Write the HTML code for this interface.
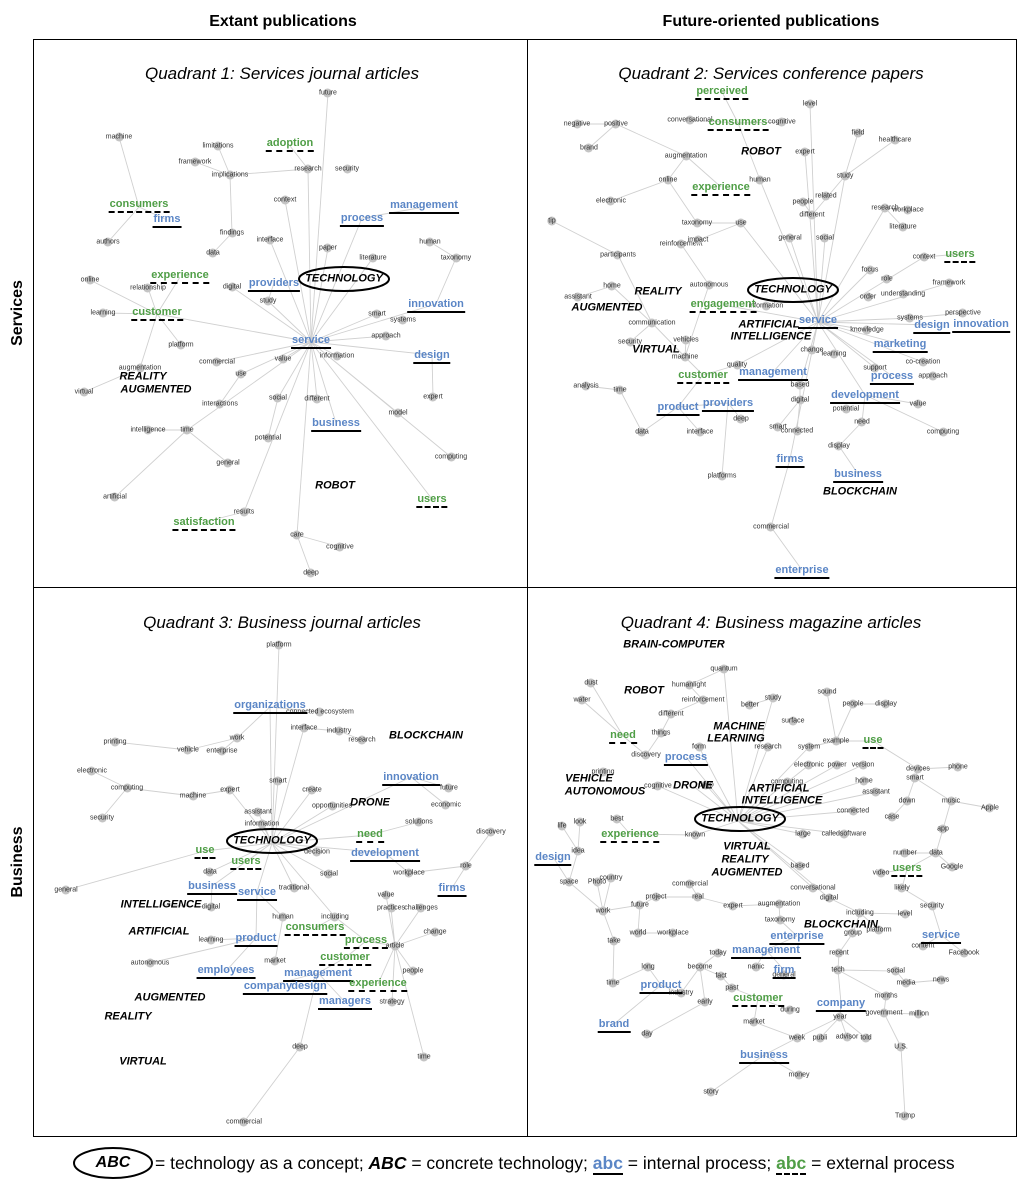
<!DOCTYPE html>
<html><head><meta charset="utf-8"><style>
*{margin:0;padding:0}
body{width:1028px;height:1195px;background:#fff;position:relative;overflow:hidden;font-family:"Liberation Sans",sans-serif}
.n{position:absolute;transform:translate(-50%,-50%);white-space:nowrap;line-height:1}
.s{font-size:7px;color:#333}
.s::after{content:'';position:absolute;left:50%;top:55%;width:9px;height:9px;margin:-4.5px;border-radius:50%;background:#c4c4c4;z-index:-1}
.b{font-size:11px;color:#5b86c6;font-weight:bold;border-bottom:2px solid #000;padding:0 1px 1px}
.g{font-size:11px;color:#4f9e46;font-weight:bold;border-bottom:2px dashed #000;padding:0 1px 1px}
.k{font-size:11px;font-weight:bold;font-style:italic;color:#000}
.t{position:absolute;font-size:17px;font-style:italic;transform:translateX(-50%);white-space:nowrap}
.h{position:absolute;font-size:16px;font-weight:bold;transform:translateX(-50%);white-space:nowrap}
svg{position:absolute;left:0;top:0}
</style></head><body>
<svg width="1028" height="1195">
<rect x="33.5" y="39.5" width="983" height="1097" fill="none" stroke="#000"/>
<line x1="527.5" y1="39" x2="527.5" y2="1136" stroke="#000"/>
<line x1="33" y1="587.5" x2="1016" y2="587.5" stroke="#000"/>
<g stroke="#d0d0d0" stroke-width="0.9" fill="none">
<path d="M311 342L328 93M311 342L308 169M308 169L290 146M308 169L230 175M230 175L218 146M230 175L195 162M230 175L232 233M232 233L213 253M311 342L285 200M311 342L362 218M362 218L424 207M311 342L373 258M311 342L436 304M436 304L456 258M456 258L430 242M311 342L432 355M432 355L433 397M311 342L398 413M311 342L336 423M311 342L451 457M311 342L432 499M311 342L317 399M311 342L297 535M297 535L340 547M297 535L311 573M311 342L244 512M244 512L204 522M311 342L278 398M278 398L268 438M311 342L157 314M157 314L180 277M157 314L148 288M157 314L103 313M157 314L90 280M157 314L140 368M140 368L84 392M157 314L181 345M311 342L241 374M241 374L220 404M311 342L187 430M187 430L148 430M187 430L228 463M187 430L115 497M311 342L268 301M268 301L274 283M311 342L232 287M311 342L386 336M311 342L377 314M311 342L283 359M311 342L337 356M311 342L328 248M139 207L108 242M139 207L119 137M139 207L167 220M311 342L270 240M311 342L217 362"/>
<path d="M818 322L810 104M818 322L845 176M845 176L858 133M845 176L895 140M845 176L812 215M812 215L803 202M818 322L885 208M885 208L908 210M885 208L903 227M818 322L741 223M741 223L698 240M741 223L697 223M697 223L668 180M668 180L686 156M686 156L616 124M616 124L577 124M616 124L589 148M686 156L721 187M668 180L611 201M818 322L790 238M818 322L825 238M818 322L870 270M818 322L924 257M924 257L960 254M818 322L949 283M818 322L910 318M910 318L963 313M818 322L932 325M818 322L900 344M818 322L867 330M818 322L923 362M818 322L875 368M818 322L892 376M818 322L812 350M818 322L800 385M800 385L800 400M800 400L778 427M800 400L797 431M818 322L865 395M865 395L918 404M865 395L943 432M865 395L862 422M862 422L839 446M839 446L858 474M818 322L790 459M790 459L771 527M771 527L802 570M818 322L773 372M818 322L737 365M737 365L703 375M703 375L678 407M678 407L642 432M642 432L620 390M620 390L586 386M678 407L700 432M678 407L728 403M728 403L741 419M728 403L722 476M703 375L685 357M685 357L652 323M652 323L630 342M652 323L618 255M652 323L612 286M612 286L578 297M618 255L552 221M685 357L686 340M685 357L709 285M709 285L681 244M818 322L723 305M818 322L760 180M760 180L738 123M738 123L722 92M738 123L690 120M738 123L782 122M818 322L805 152"/>
<path d="M272 843L279 645M272 843L270 707M270 707L320 712M270 707L237 738M237 738L222 751M237 738L188 750M188 750L115 742M272 843L304 728M304 728L339 731M339 731L362 740M272 843L411 777M411 777L449 788M411 777L446 805M272 843L278 781M272 843L312 790M272 843L230 790M230 790L193 796M193 796L127 788M127 788L92 771M127 788L102 818M272 843L258 812M272 843L332 806M272 843L262 824M272 843L370 835M370 835L419 822M272 843L205 851M205 851L66 890M272 843L210 872M272 843L317 852M272 843L385 853M385 853L409 873M409 873L466 866M466 866L491 832M466 866L452 888M272 843L246 862M272 843L329 874M272 843L294 888M272 843L212 886M212 886L211 907M272 843L257 892M257 892L283 917M283 917L275 961M272 843L335 917M335 917L315 928M335 917L366 941M366 941L395 946M395 946L421 908M395 946L391 908M395 946L386 895M395 946L435 932M395 946L413 971M395 946L424 1057M395 946L392 1002M395 946L378 984M366 941L345 958M345 958L318 973M318 973L345 1002M318 973L309 987M318 973L268 986M318 973L300 1047M300 1047L244 1122M257 892L256 938M256 938L211 940M256 938L226 971M256 938L150 963M211 907L161 905"/>
<path d="M738 821L724 669M724 669L689 685M689 685L703 700M703 700L671 714M671 714L661 733M661 733L646 755M646 755L623 736M623 736L591 683M623 736L582 700M738 821L773 698M773 698L750 705M738 821L768 747M738 821L809 747M809 747L836 741M836 741L827 692M836 741L853 704M853 704L886 704M836 741L873 741M873 741L918 769M918 769L958 767M918 769L915 778M915 778L907 801M907 801L892 817M915 778L951 801M951 801L990 808M951 801L943 829M943 829L936 853M936 853L905 853M936 853L952 867M936 853L907 869M907 869L881 873M907 869L902 888M902 888L932 906M932 906L941 935M941 935L923 946M941 935L964 953M738 821L809 765M738 821L837 765M738 821L863 765M738 821L864 781M738 821L876 792M738 821L853 811M738 821L803 834M738 821L844 834M738 821L800 866M738 821L813 888M738 821L829 898M829 898L860 913M860 913L905 914M860 913L879 930M860 913L853 933M853 933L839 953M839 953L838 970M838 970L896 971M896 971L906 983M906 983L941 980M838 970L886 996M886 996L884 1013M884 1013L919 1014M884 1013L901 1047M901 1047L905 1116M838 970L841 1003M841 1003L840 1017M840 1017L866 1038M840 1017L847 1037M840 1017L820 1038M840 1017L797 1038M797 1038L764 1055M764 1055L799 1075M764 1055L711 1092M797 1038L754 1022M754 1022L758 998M758 998L790 1010M758 998L732 988M732 988L721 976M721 976L700 967M700 967L718 953M700 967L705 1002M705 1002L647 1034M700 967L681 993M681 993L661 985M661 985L614 1024M661 985L648 967M648 967L613 983M613 983L614 941M614 941L603 911M603 911L569 882M569 882L553 857M569 882L578 851M578 851L562 826M578 851L580 822M603 911L597 882M603 911L611 878M603 911L640 905M640 905L656 897M656 897L698 897M698 897L690 884M698 897L733 906M733 906L779 904M779 904L780 920M780 920L797 936M797 936L766 950M766 950L756 967M766 950L784 970M784 970L784 975M738 821L695 835M695 835L630 834M630 834L617 819M738 821L658 786M738 821L693 786M738 821L706 785M738 821L787 782M738 821L699 747M738 821L686 757M640 905L638 933M638 933L673 933"/>
</g>
<ellipse cx="344" cy="279" rx="45" ry="12" fill="none" stroke="#000" stroke-width="2"/>
<ellipse cx="793" cy="290" rx="45" ry="12" fill="none" stroke="#000" stroke-width="2"/>
<ellipse cx="272" cy="841" rx="45" ry="12" fill="none" stroke="#000" stroke-width="2"/>
<ellipse cx="740" cy="819" rx="45" ry="12" fill="none" stroke="#000" stroke-width="2"/>
<ellipse cx="113" cy="1163" rx="39" ry="15" fill="none" stroke="#000" stroke-width="2"/>
</svg>

<div class="h" style="left:283px;top:13px">Extant publications</div>
<div class="h" style="left:771px;top:13px">Future-oriented publications</div>
<div class="h" style="left:18px;top:313px;transform:translate(-50%,-50%) rotate(-90deg)">Services</div>
<div class="h" style="left:18px;top:862px;transform:translate(-50%,-50%) rotate(-90deg)">Business</div>
<div class="t" style="left:282px;top:64px">Quadrant 1: Services journal articles</div>
<div class="t" style="left:771px;top:64px">Quadrant 2: Services conference papers</div>
<div class="t" style="left:282px;top:613px">Quadrant 3: Business journal articles</div>
<div class="t" style="left:771px;top:613px">Quadrant 4: Business magazine articles</div>

<div class="n k" style="left:344px;top:279px">TECHNOLOGY</div>
<div class="n k" style="left:793px;top:290px">TECHNOLOGY</div>
<div class="n k" style="left:272px;top:841px">TECHNOLOGY</div>
<div class="n k" style="left:740px;top:819px">TECHNOLOGY</div>

<!-- Q1 -->
<div class="n s" style="left:328px;top:93px">future</div><div class="n s" style="left:119px;top:137px">machine</div><div class="n s" style="left:218px;top:146px">limitations</div><div class="n s" style="left:195px;top:162px">framework</div><div class="n s" style="left:230px;top:175px">implications</div><div class="n s" style="left:308px;top:169px">research</div><div class="n s" style="left:347px;top:169px">security</div><div class="n s" style="left:285px;top:200px">context</div><div class="n s" style="left:108px;top:242px">authors</div><div class="n s" style="left:270px;top:240px">interface</div><div class="n s" style="left:328px;top:248px">paper</div><div class="n s" style="left:373px;top:258px">literature</div><div class="n s" style="left:430px;top:242px">human</div><div class="n s" style="left:456px;top:258px">taxonomy</div><div class="n s" style="left:213px;top:253px">data</div><div class="n s" style="left:232px;top:233px">findings</div><div class="n s" style="left:148px;top:288px">relationship</div><div class="n s" style="left:90px;top:280px">online</div><div class="n s" style="left:232px;top:287px">digital</div><div class="n s" style="left:268px;top:301px">study</div><div class="n s" style="left:103px;top:313px">learning</div><div class="n s" style="left:377px;top:314px">smart</div><div class="n s" style="left:403px;top:320px">systems</div><div class="n s" style="left:386px;top:336px">approach</div><div class="n s" style="left:181px;top:345px">platform</div><div class="n s" style="left:217px;top:362px">commercial</div><div class="n s" style="left:241px;top:374px">use</div><div class="n s" style="left:283px;top:359px">value</div><div class="n s" style="left:337px;top:356px">information</div><div class="n s" style="left:140px;top:368px">augmentation</div><div class="n s" style="left:84px;top:392px">virtual</div><div class="n s" style="left:220px;top:404px">interactions</div><div class="n s" style="left:278px;top:398px">social</div><div class="n s" style="left:317px;top:399px">different</div><div class="n s" style="left:433px;top:397px">expert</div><div class="n s" style="left:398px;top:413px">model</div><div class="n s" style="left:148px;top:430px">intelligence</div><div class="n s" style="left:187px;top:430px">time</div><div class="n s" style="left:268px;top:438px">potential</div><div class="n s" style="left:228px;top:463px">general</div><div class="n s" style="left:451px;top:457px">computing</div><div class="n s" style="left:115px;top:497px">artificial</div><div class="n s" style="left:244px;top:512px">results</div><div class="n s" style="left:297px;top:535px">care</div><div class="n s" style="left:340px;top:547px">cognitive</div><div class="n s" style="left:311px;top:573px">deep</div>
<div class="n g" style="left:290px;top:145px">adoption</div><div class="n g" style="left:139px;top:206px">consumers</div><div class="n b" style="left:167px;top:221px">firms</div><div class="n b" style="left:424px;top:207px">management</div><div class="n b" style="left:362px;top:220px">process</div><div class="n g" style="left:180px;top:277px">experience</div><div class="n b" style="left:274px;top:285px">providers</div><div class="n b" style="left:436px;top:306px">innovation</div><div class="n g" style="left:157px;top:314px">customer</div><div class="n b" style="left:311px;top:342px">service</div><div class="n b" style="left:432px;top:357px">design</div><div class="n b" style="left:336px;top:425px">business</div><div class="n g" style="left:432px;top:501px">users</div><div class="n g" style="left:204px;top:524px">satisfaction</div>
<div class="n k" style="left:143px;top:377px">REALITY</div><div class="n k" style="left:156px;top:390px">AUGMENTED</div><div class="n k" style="left:335px;top:486px">ROBOT</div>

<!-- Q2 -->
<div class="n s" style="left:810px;top:104px">level</div><div class="n s" style="left:577px;top:124px">negative</div><div class="n s" style="left:616px;top:124px">positive</div><div class="n s" style="left:690px;top:120px">conversational</div><div class="n s" style="left:782px;top:122px">cognitive</div><div class="n s" style="left:589px;top:148px">brand</div><div class="n s" style="left:858px;top:133px">field</div><div class="n s" style="left:895px;top:140px">healthcare</div><div class="n s" style="left:686px;top:156px">augmentation</div><div class="n s" style="left:805px;top:152px">expert</div><div class="n s" style="left:668px;top:180px">online</div><div class="n s" style="left:760px;top:180px">human</div><div class="n s" style="left:845px;top:176px">study</div><div class="n s" style="left:908px;top:210px">workplace</div><div class="n s" style="left:611px;top:201px">electronic</div><div class="n s" style="left:803px;top:202px">people</div><div class="n s" style="left:826px;top:196px">related</div><div class="n s" style="left:812px;top:215px">different</div><div class="n s" style="left:885px;top:208px">research</div><div class="n s" style="left:903px;top:227px">literature</div><div class="n s" style="left:552px;top:221px">tip</div><div class="n s" style="left:697px;top:223px">taxonomy</div><div class="n s" style="left:741px;top:223px">use</div><div class="n s" style="left:681px;top:244px">reinforcement</div><div class="n s" style="left:698px;top:240px">impact</div><div class="n s" style="left:790px;top:238px">general</div><div class="n s" style="left:825px;top:238px">social</div><div class="n s" style="left:618px;top:255px">participants</div><div class="n s" style="left:924px;top:257px">context</div><div class="n s" style="left:612px;top:286px">home</div><div class="n s" style="left:709px;top:285px">autonomous</div><div class="n s" style="left:870px;top:270px">focus</div><div class="n s" style="left:887px;top:279px">role</div><div class="n s" style="left:949px;top:283px">framework</div><div class="n s" style="left:578px;top:297px">assistant</div><div class="n s" style="left:903px;top:294px">understanding</div><div class="n s" style="left:868px;top:297px">order</div><div class="n s" style="left:766px;top:306px">information</div><div class="n s" style="left:652px;top:323px">communication</div><div class="n s" style="left:910px;top:318px">systems</div><div class="n s" style="left:963px;top:313px">perspective</div><div class="n s" style="left:630px;top:342px">security</div><div class="n s" style="left:686px;top:340px">vehicles</div><div class="n s" style="left:867px;top:330px">knowledge</div><div class="n s" style="left:685px;top:357px">machine</div><div class="n s" style="left:812px;top:350px">change</div><div class="n s" style="left:834px;top:354px">learning</div><div class="n s" style="left:923px;top:362px">co-creation</div><div class="n s" style="left:737px;top:365px">quality</div><div class="n s" style="left:800px;top:385px">based</div><div class="n s" style="left:875px;top:368px">support</div><div class="n s" style="left:933px;top:376px">approach</div><div class="n s" style="left:586px;top:386px">analysis</div><div class="n s" style="left:620px;top:390px">time</div><div class="n s" style="left:800px;top:400px">digital</div><div class="n s" style="left:846px;top:409px">potential</div><div class="n s" style="left:918px;top:404px">value</div><div class="n s" style="left:741px;top:419px">deep</div><div class="n s" style="left:778px;top:427px">smart</div><div class="n s" style="left:797px;top:431px">connected</div><div class="n s" style="left:862px;top:422px">need</div><div class="n s" style="left:642px;top:432px">data</div><div class="n s" style="left:700px;top:432px">interface</div><div class="n s" style="left:943px;top:432px">computing</div><div class="n s" style="left:839px;top:446px">display</div><div class="n s" style="left:722px;top:476px">platforms</div><div class="n s" style="left:771px;top:527px">commercial</div>
<div class="n g" style="left:722px;top:93px">perceived</div><div class="n g" style="left:738px;top:124px">consumers</div><div class="n g" style="left:721px;top:189px">experience</div><div class="n g" style="left:960px;top:256px">users</div><div class="n g" style="left:723px;top:306px">engagement</div><div class="n b" style="left:818px;top:322px">service</div><div class="n b" style="left:932px;top:327px">design</div><div class="n b" style="left:981px;top:326px">innovation</div><div class="n b" style="left:900px;top:346px">marketing</div><div class="n b" style="left:773px;top:374px">management</div><div class="n g" style="left:703px;top:377px">customer</div><div class="n b" style="left:892px;top:378px">process</div><div class="n b" style="left:865px;top:397px">development</div><div class="n b" style="left:678px;top:409px">product</div><div class="n b" style="left:728px;top:405px">providers</div><div class="n b" style="left:790px;top:461px">firms</div><div class="n b" style="left:858px;top:476px">business</div><div class="n b" style="left:802px;top:572px">enterprise</div>
<div class="n k" style="left:761px;top:152px">ROBOT</div><div class="n k" style="left:658px;top:292px">REALITY</div><div class="n k" style="left:607px;top:308px">AUGMENTED</div><div class="n k" style="left:769px;top:325px">ARTIFICIAL</div><div class="n k" style="left:771px;top:337px">INTELLIGENCE</div><div class="n k" style="left:656px;top:350px">VIRTUAL</div><div class="n k" style="left:860px;top:492px">BLOCKCHAIN</div>

<!-- Q3 -->
<div class="n s" style="left:279px;top:645px">platform</div><div class="n s" style="left:320px;top:712px">connected ecosystem</div><div class="n s" style="left:115px;top:742px">printing</div><div class="n s" style="left:188px;top:750px">vehicle</div><div class="n s" style="left:222px;top:751px">enterprise</div><div class="n s" style="left:237px;top:738px">work</div><div class="n s" style="left:304px;top:728px">interface</div><div class="n s" style="left:339px;top:731px">industry</div><div class="n s" style="left:362px;top:740px">research</div><div class="n s" style="left:92px;top:771px">electronic</div><div class="n s" style="left:127px;top:788px">computing</div><div class="n s" style="left:193px;top:796px">machine</div><div class="n s" style="left:230px;top:790px">expert</div><div class="n s" style="left:278px;top:781px">smart</div><div class="n s" style="left:312px;top:790px">create</div><div class="n s" style="left:449px;top:788px">future</div><div class="n s" style="left:446px;top:805px">economic</div><div class="n s" style="left:258px;top:812px">assistant</div><div class="n s" style="left:332px;top:806px">opportunities</div><div class="n s" style="left:102px;top:818px">security</div><div class="n s" style="left:262px;top:824px">information</div><div class="n s" style="left:419px;top:822px">solutions</div><div class="n s" style="left:491px;top:832px">discovery</div><div class="n s" style="left:210px;top:872px">data</div><div class="n s" style="left:317px;top:852px">decision</div><div class="n s" style="left:466px;top:866px">role</div><div class="n s" style="left:66px;top:890px">general</div><div class="n s" style="left:329px;top:874px">social</div><div class="n s" style="left:294px;top:888px">traditional</div><div class="n s" style="left:409px;top:873px">workplace</div><div class="n s" style="left:211px;top:907px">digital</div><div class="n s" style="left:386px;top:895px">value</div><div class="n s" style="left:421px;top:908px">challenges</div><div class="n s" style="left:283px;top:917px">human</div><div class="n s" style="left:335px;top:917px">including</div><div class="n s" style="left:391px;top:908px">practices</div><div class="n s" style="left:435px;top:932px">change</div><div class="n s" style="left:211px;top:940px">learning</div><div class="n s" style="left:150px;top:963px">autonomous</div><div class="n s" style="left:275px;top:961px">market</div><div class="n s" style="left:395px;top:946px">article</div><div class="n s" style="left:413px;top:971px">people</div><div class="n s" style="left:392px;top:1002px">strategy</div><div class="n s" style="left:300px;top:1047px">deep</div><div class="n s" style="left:424px;top:1057px">time</div><div class="n s" style="left:244px;top:1122px">commercial</div>
<div class="n b" style="left:270px;top:707px">organizations</div><div class="n b" style="left:411px;top:779px">innovation</div><div class="n g" style="left:370px;top:836px">need</div><div class="n g" style="left:205px;top:852px">use</div><div class="n b" style="left:385px;top:855px">development</div><div class="n g" style="left:246px;top:863px">users</div><div class="n b" style="left:212px;top:888px">business</div><div class="n b" style="left:257px;top:894px">service</div><div class="n b" style="left:452px;top:890px">firms</div><div class="n b" style="left:256px;top:940px">product</div><div class="n g" style="left:315px;top:929px">consumers</div><div class="n g" style="left:366px;top:942px">process</div><div class="n g" style="left:345px;top:959px">customer</div><div class="n b" style="left:226px;top:972px">employees</div><div class="n b" style="left:318px;top:975px">management</div><div class="n b" style="left:268px;top:988px">company</div><div class="n b" style="left:309px;top:988px">design</div><div class="n g" style="left:378px;top:985px">experience</div><div class="n b" style="left:345px;top:1003px">managers</div>
<div class="n k" style="left:426px;top:736px">BLOCKCHAIN</div><div class="n k" style="left:370px;top:803px">DRONE</div><div class="n k" style="left:161px;top:905px">INTELLIGENCE</div><div class="n k" style="left:159px;top:932px">ARTIFICIAL</div><div class="n k" style="left:170px;top:998px">AUGMENTED</div><div class="n k" style="left:128px;top:1017px">REALITY</div><div class="n k" style="left:143px;top:1062px">VIRTUAL</div>

<!-- Q4 -->
<div class="n s" style="left:724px;top:669px">quantum</div><div class="n s" style="left:591px;top:683px">dust</div><div class="n s" style="left:689px;top:685px">humanlight</div><div class="n s" style="left:582px;top:700px">water</div><div class="n s" style="left:703px;top:700px">reinforcement</div><div class="n s" style="left:750px;top:705px">better</div><div class="n s" style="left:773px;top:698px">study</div><div class="n s" style="left:827px;top:692px">sound</div><div class="n s" style="left:853px;top:704px">people</div><div class="n s" style="left:886px;top:704px">display</div><div class="n s" style="left:671px;top:714px">different</div><div class="n s" style="left:793px;top:721px">surface</div><div class="n s" style="left:661px;top:733px">things</div><div class="n s" style="left:836px;top:741px">example</div><div class="n s" style="left:699px;top:747px">form</div><div class="n s" style="left:768px;top:747px">research</div><div class="n s" style="left:809px;top:747px">system</div><div class="n s" style="left:646px;top:755px">discovery</div><div class="n s" style="left:809px;top:765px">electronic</div><div class="n s" style="left:837px;top:765px">power</div><div class="n s" style="left:863px;top:765px">version</div><div class="n s" style="left:918px;top:769px">devices</div><div class="n s" style="left:958px;top:767px">phone</div><div class="n s" style="left:603px;top:772px">printing</div><div class="n s" style="left:658px;top:786px">cognitive</div><div class="n s" style="left:706px;top:785px">deep</div><div class="n s" style="left:787px;top:782px">computing</div><div class="n s" style="left:864px;top:781px">home</div><div class="n s" style="left:915px;top:778px">smart</div><div class="n s" style="left:876px;top:792px">assistant</div><div class="n s" style="left:951px;top:801px">music</div><div class="n s" style="left:990px;top:808px">Apple</div><div class="n s" style="left:617px;top:819px">best</div><div class="n s" style="left:907px;top:801px">down</div><div class="n s" style="left:853px;top:811px">connected</div><div class="n s" style="left:892px;top:817px">case</div><div class="n s" style="left:562px;top:826px">life</div><div class="n s" style="left:580px;top:822px">look</div><div class="n s" style="left:695px;top:835px">known</div><div class="n s" style="left:803px;top:834px">large</div><div class="n s" style="left:844px;top:834px">calledsoftware</div><div class="n s" style="left:943px;top:829px">app</div><div class="n s" style="left:578px;top:851px">idea</div><div class="n s" style="left:800px;top:866px">based</div><div class="n s" style="left:905px;top:853px">number</div><div class="n s" style="left:936px;top:853px">data</div><div class="n s" style="left:952px;top:867px">Google</div><div class="n s" style="left:881px;top:873px">video</div><div class="n s" style="left:569px;top:882px">space</div><div class="n s" style="left:597px;top:882px">Photo</div><div class="n s" style="left:611px;top:878px">country</div><div class="n s" style="left:690px;top:884px">commercial</div><div class="n s" style="left:813px;top:888px">conversational</div><div class="n s" style="left:902px;top:888px">likely</div><div class="n s" style="left:829px;top:898px">digital</div><div class="n s" style="left:932px;top:906px">security</div><div class="n s" style="left:656px;top:897px">project</div><div class="n s" style="left:698px;top:897px">real</div><div class="n s" style="left:640px;top:905px">future</div><div class="n s" style="left:603px;top:911px">work</div><div class="n s" style="left:733px;top:906px">expert</div><div class="n s" style="left:779px;top:904px">augmentation</div><div class="n s" style="left:860px;top:913px">including</div><div class="n s" style="left:905px;top:914px">level</div><div class="n s" style="left:638px;top:933px">world</div><div class="n s" style="left:673px;top:933px">workplace</div><div class="n s" style="left:780px;top:920px">taxonomy</div><div class="n s" style="left:853px;top:933px">group</div><div class="n s" style="left:879px;top:930px">platform</div><div class="n s" style="left:923px;top:946px">content</div><div class="n s" style="left:614px;top:941px">take</div><div class="n s" style="left:964px;top:953px">Facebook</div><div class="n s" style="left:718px;top:953px">today</div><div class="n s" style="left:839px;top:953px">recent</div><div class="n s" style="left:648px;top:967px">long</div><div class="n s" style="left:700px;top:967px">become</div><div class="n s" style="left:756px;top:967px">nanic</div><div class="n s" style="left:838px;top:970px">tech</div><div class="n s" style="left:896px;top:971px">social</div><div class="n s" style="left:906px;top:983px">media</div><div class="n s" style="left:941px;top:980px">news</div><div class="n s" style="left:721px;top:976px">fact</div><div class="n s" style="left:613px;top:983px">time</div><div class="n s" style="left:681px;top:993px">industry</div><div class="n s" style="left:732px;top:988px">past</div><div class="n s" style="left:784px;top:975px">general</div><div class="n s" style="left:886px;top:996px">months</div><div class="n s" style="left:705px;top:1002px">early</div><div class="n s" style="left:790px;top:1010px">during</div><div class="n s" style="left:840px;top:1017px">year</div><div class="n s" style="left:919px;top:1014px">million</div><div class="n s" style="left:884px;top:1013px">government</div><div class="n s" style="left:647px;top:1034px">day</div><div class="n s" style="left:754px;top:1022px">market</div><div class="n s" style="left:797px;top:1038px">week</div><div class="n s" style="left:820px;top:1038px">publi</div><div class="n s" style="left:847px;top:1037px">advisor</div><div class="n s" style="left:866px;top:1038px">told</div><div class="n s" style="left:901px;top:1047px">U.S.</div><div class="n s" style="left:799px;top:1075px">money</div><div class="n s" style="left:711px;top:1092px">story</div><div class="n s" style="left:905px;top:1116px">Trump</div>
<div class="n g" style="left:623px;top:737px">need</div><div class="n g" style="left:873px;top:742px">use</div><div class="n b" style="left:686px;top:759px">process</div><div class="n g" style="left:630px;top:836px">experience</div><div class="n g" style="left:907px;top:870px">users</div><div class="n b" style="left:553px;top:859px">design</div><div class="n b" style="left:941px;top:937px">service</div><div class="n b" style="left:797px;top:938px">enterprise</div><div class="n b" style="left:766px;top:952px">management</div><div class="n b" style="left:784px;top:972px">firm</div><div class="n b" style="left:661px;top:987px">product</div><div class="n g" style="left:758px;top:1000px">customer</div><div class="n b" style="left:841px;top:1005px">company</div><div class="n b" style="left:614px;top:1026px">brand</div><div class="n b" style="left:764px;top:1057px">business</div>
<div class="n k" style="left:674px;top:645px">BRAIN-COMPUTER</div><div class="n k" style="left:644px;top:691px">ROBOT</div><div class="n k" style="left:739px;top:727px">MACHINE</div><div class="n k" style="left:736px;top:739px">LEARNING</div><div class="n k" style="left:589px;top:779px">VEHICLE</div><div class="n k" style="left:693px;top:786px">DRONE</div><div class="n k" style="left:779px;top:789px">ARTIFICIAL</div><div class="n k" style="left:605px;top:792px">AUTONOMOUS</div><div class="n k" style="left:782px;top:801px">INTELLIGENCE</div><div class="n k" style="left:747px;top:847px">VIRTUAL</div><div class="n k" style="left:745px;top:860px">REALITY</div><div class="n k" style="left:747px;top:873px">AUGMENTED</div><div class="n k" style="left:841px;top:925px">BLOCKCHAIN</div>

<!-- legend -->
<div class="n" style="left:113px;top:1163px;font-size:16px;font-weight:bold;font-style:italic">ABC</div>
<div style="position:absolute;left:155px;top:1153px;font-size:17.5px;white-space:nowrap;line-height:1.2">= technology as a concept; <b><i>ABC</i></b> = concrete technology; <b style="color:#5b86c6;border-bottom:2px solid #000">abc</b> = internal process; <b style="color:#4f9e46;border-bottom:2px dashed #000">abc</b> = external process</div>
</body></html>
